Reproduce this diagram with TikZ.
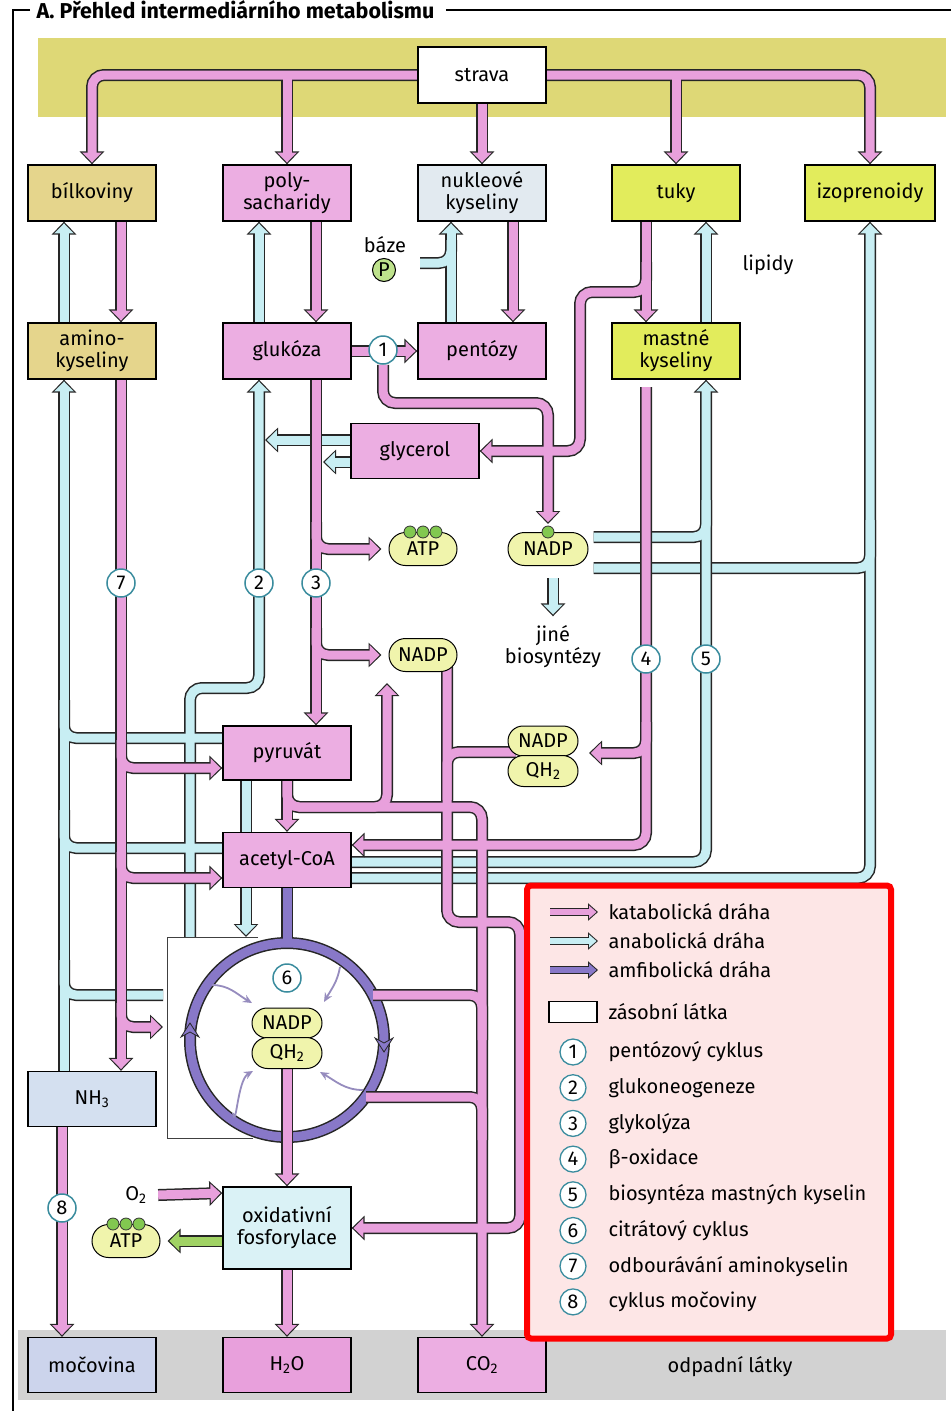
\documentclass[tikz,border=0pt]{standalone}
\usepackage{fontspec}
\setmainfont{Fira Sans}
\usetikzlibrary{arrows.meta,shapes.misc}

\definecolor{katpink}{RGB}{232,160,220}
\definecolor{anacyan}{RGB}{200,238,243}
\definecolor{amfpurple}{RGB}{136,120,200}
\definecolor{atpgreen}{RGB}{160,210,100}
\definecolor{boxpink}{RGB}{236,174,226}
\definecolor{boxtan}{RGB}{229,213,140}
\definecolor{boxlime}{RGB}{226,236,92}
\definecolor{boxgrey}{RGB}{226,234,240}
\definecolor{boxblue}{RGB}{212,224,240}
\definecolor{boxlav}{RGB}{204,212,236}
\definecolor{boxcyan}{RGB}{218,242,246}
\definecolor{cofactor}{RGB}{240,244,172}
\definecolor{dotgreen}{RGB}{130,200,80}
\definecolor{pgreen}{RGB}{190,226,140}
\definecolor{numteal}{RGB}{58,140,158}
\definecolor{topband}{RGB}{222,216,118}
\definecolor{waste}{RGB}{210,210,210}
\definecolor{legfill}{RGB}{253,230,230}
\definecolor{cycgrey}{RGB}{150,140,190}

\pgfdeclarelayer{bands}
\pgfdeclarelayer{pipes}
\pgfsetlayers{bands,pipes,main}

\tikzset{
  box/.style={draw, line width=1.3pt, minimum width=128pt, minimum height=56pt, align=center, inner sep=1pt},
  pill/.style={rounded rectangle, draw, line width=1pt, fill=cofactor, minimum width=70pt, minimum height=33pt, inner sep=1pt},
  num/.style={circle, draw=numteal, line width=1.5pt, fill=white, minimum size=28pt, inner sep=0pt},
  dot/.style={circle, draw=black!80, line width=0.8pt, fill=dotgreen, minimum size=12pt, inner sep=0pt},
  pout/.style={line width=12pt, draw=black!85, rounded corners=12pt,
    pend/.style={-{Triangle[length=13pt,width=24pt]}}},
  katin/.style={line width=9pt, draw=katpink, rounded corners=12pt,
    pend/.style={-{Triangle[length=10pt,width=19pt]}, shorten >=1.8pt}},
  anain/.style={katin, draw=anacyan},
  amfin/.style={katin, draw=amfpurple},
  grnin/.style={katin, draw=atpgreen},
  lout/.style={line width=8pt, draw=black!85, -{Triangle[length=10pt,width=17pt]}},
  lin/.style={line width=5.5pt, -{Triangle[length=7.5pt,width=12.5pt]}, shorten >=1.5pt},
  cyc/.style={line width=1.8pt, draw=cycgrey, -{Stealth[length=9pt,width=8pt]}},
}

% outlines of a whole pipe network first, then its colour
\newcommand\pipenet[2]{%
  \foreach \pth in {#2}{\draw[pout] \pth;}%
  \foreach \pth in {#2}{\draw[#1] \pth;}%
}

\begin{document}
\begin{tikzpicture}[x=1pt, y=-1pt, font=\fontsize{20}{22}\selectfont]
  \useasboundingbox (0,0) rectangle (951,1411);

  % Bands
  \begin{pgfonlayer}{bands}
    \fill[white] (0,0) rectangle (951,1411);
    \fill[topband] (38,38) rectangle (946,117);
    \fill[waste] (18,1330) rectangle (946,1400);
  \end{pgfonlayer}

  % Title and frame
  \node[anchor=west, font=\bfseries\fontsize{21.5}{23}\selectfont] (title) at (33,10) {A. Přehled intermediárního metabolismu};
  \coordinate (fre) at (951,11);
  \draw[line width=1.3pt] ([xshift=8]title.east) -- (title.east -| fre);
  \draw[line width=1.3pt] ([xshift=-3]title.west) -| (13,1411);

  % Stores and intermediates
  \node[box, fill=white] (strava) at (482,75) {strava};
  \node[box, fill=boxtan] (bilk) at (92,193) {bílkoviny};
  \node[box, fill=boxpink] (poly) at (287,193) {poly-\\sacharidy};
  \node[box, fill=boxgrey] (nukl) at (482,193) {nukleové\\kyseliny};
  \node[box, fill=boxlime] (tuky) at (676,193) {tuky};
  \node[box, fill=boxlime, minimum width=130pt] (izo) at (870,193) {izoprenoidy};
  \node[box, fill=boxtan] (amino) at (92,351) {amino-\\kyseliny};
  \node[box, fill=boxpink] (gluk) at (287,351) {glukóza};
  \node[box, fill=boxpink] (pent) at (482,351) {pentózy};
  \node[box, fill=boxlime] (mast) at (676,351) {mastné\\kyseliny};
  \node[box, fill=boxpink, minimum height=55pt] (glyc) at (415,451) {glycerol};
  \node[box, fill=boxpink, minimum height=54pt] (pyr) at (287,753) {pyruvát};
  \node[box, fill=boxpink, minimum height=55pt] (acet) at (287,860) {acetyl-CoA};
  \node[box, fill=boxblue, minimum height=55pt] (nh3) at (92,1099) {NH\textsubscript{3}};
  \node[box, fill=boxcyan, minimum height=82pt] (oxid) at (287,1228) {oxidativní\\fosforylace};
  \node[box, fill=boxlav, minimum height=55pt] (urea) at (92,1365) {močovina};
  \node[box, fill=katpink, minimum height=55pt] (h2o) at (287,1365) {H\textsubscript{2}O};
  \node[box, fill=boxpink, minimum height=55pt] (co2) at (482,1365) {CO\textsubscript{2}};

  % Cofactors
  \node[pill] (atpa) at (423,549) {ATP};
  \node[pill, minimum width=82pt] (nadpa) at (548,549) {NADP};
  \node[pill] (nadpb) at (423,655) {NADP};
  \node[pill, minimum width=72pt, minimum height=30pt] (nadpc) at (543,741) {NADP};
  \node[pill, minimum width=72pt, minimum height=31pt] (qhc) at (543,771) {QH\textsubscript{2}};
  \node[pill, minimum width=72pt, minimum height=30pt] (nadp6) at (287,1023) {NADP};
  \node[pill, minimum width=72pt, minimum height=31pt] (qh6) at (287,1053) {QH\textsubscript{2}};
  \node[pill] (atpb) at (126,1241) {ATP};
  \foreach \dx [count=\i] in {-13,0,13} {
    \node[dot] (dta\i) at ([xshift=\dx]atpa.north) {};
    \node[dot] (dtb\i) at ([xshift=\dx]atpb.north) {};
  }
  \node[dot] (dtn) at (nadpa.north) {};

  % Labels
  \node (baze) at (385,245) {báze};
  \node[circle, draw, line width=1pt, fill=pgreen, minimum size=23pt, inner sep=0pt] (phos) at (384,270) {P};
  \node (lipidy) at (768,265) {lipidy};
  \node[align=center] (jine) at (553,647) {jiné\\biosyntézy};
  \node (o2) at (136,1195) {O\textsubscript{2}};
  \node (odpad) at (730,1367) {odpadní látky};

  % Pathway numbers
  \node[num] (n1) at (383,350) {1};
  \node[num] (n2) at (259,583) {2};
  \node[num] (n3) at (316,583) {3};
  \node[num] (n4) at (646,659) {4};
  \node[num] (n5) at (706,659) {5};
  \node[num] (n6) at (287,978) {6};
  \node[num] (n7) at (121,583) {7};
  \node[num] (n8) at (62,1208) {8};

  % Citrate cycle
  \coordinate (ring) at (287,1040);
  \draw[line width=1pt, black!75] (258,937) -| (167,1138) -- (253,1138);
  \draw[black!85, fill=amfpurple, line width=0.8pt] (181,1037) -- (190,1023) -- (199,1037) -- (190,1032) -- cycle;
  \draw[black!85, fill=amfpurple, line width=0.8pt] (375,1038) -- (384,1052) -- (393,1038) -- (384,1043) -- cycle;
  \draw[cyc] (212,985) to[out=0, in=150] (252,1003);
  \draw[cyc] (340,967) to[out=-100, in=60] (324,1002);
  \draw[cyc] (233,1113) to[out=-80, in=-150] (253,1071);
  \draw[cyc] (363,1090) to[out=180, in=-30] (320,1072);

  \begin{pgfonlayer}{pipes}
    % anabolic
    \pipenet{anain}{
      {[pend] ([yshift=-18]acet.east) -| (izo.south)},
      {([xshift=5,yshift=-19]nadpa.east) -| (870,520)}}
    \pipenet{anain}{
      {[pend] ([yshift=-2]acet.east) -| ([xshift=30]mast.south)},
      {([xshift=5,yshift=12]nadpa.east) -| (706,500)}}
    \pipenet{anain}{
      {[pend] ([xshift=-28]amino.north) -- ([xshift=-28]bilk.south)},
      {[pend] ([xshift=-28]gluk.north) -- ([xshift=-28]poly.south)},
      {[pend] ([xshift=-31]pent.north) -- ([xshift=-31]nukl.south)},
      {(420,263) -| (451,240)},
      {[pend] ([xshift=30]mast.north) -- ([xshift=30]tuky.south)},
      {[pend] ([xshift=-28]nh3.north) -- ([xshift=-28]amino.south)},
      {([yshift=15]pyr.west) -| (64,700)},
      {([yshift=12]acet.west) -| (64,810)},
      {(163,995) -| (64,960)},
      {[pend] (190,937) |- (259,688) -- ([xshift=-28]gluk.south)},
      {[pend] ([xshift=-41]pyr.south) -- (246,937)},
      {[pend] ([yshift=11]glyc.west) -- (265,440)},
      {[pend] ([yshift=-11]glyc.west) -- (323,462)},
      {[pend] ([xshift=5,yshift=-12]nadpa.south) -- ([yshift=6]jine.north)}}
    % amphibolic
    \pipenet{amfin}{
      {(acet.south) -- (287,946)},
      {(ring) circle[radius=97]}}
    % catabolic
    \pipenet{katin}{
      {[pend] (strava.west) -| (bilk.north)},
      {[pend] (287,75) -- (poly.north)},
      {[pend] (strava.south) -- (nukl.north)},
      {[pend] (strava.east) -| (izo.north)},
      {[pend] (676,75) -- (tuky.north)},
      {[pend] ([xshift=29]bilk.south) -- ([xshift=29]amino.north)},
      {[pend] ([xshift=29]poly.south) -- ([xshift=29]gluk.north)},
      {[pend] ([xshift=31]nukl.south) -- ([xshift=31]pent.north)},
      {[pend] ([xshift=-30]tuky.south) -- ([xshift=-30]mast.north)},
      {[pend] (646,262) |- (580,292) |- (glyc.east)},
      {[pend] (gluk.east) -- (pent.west)},
      {[pend] (n1.south) -- (383,403) -| ([yshift=8]nadpa.north)},
      {[pend] ([xshift=29]gluk.south) -- ([xshift=29]pyr.north)},
      {[pend] (316,522) |- ([xshift=-7]atpa.west)},
      {[pend] (316,628) |- ([xshift=-7]nadpb.west)},
      {[pend] ([xshift=29]amino.south) -- ([xshift=29]nh3.north)},
      {[pend] (121,740) |- ([yshift=-15]pyr.west)},
      {[pend] (121,852) |- ([yshift=-18]acet.west)},
      {[pend] (121,1003) |- (163,1027)},
      {[pend] (pyr.south) -- (acet.north)},
      {[pend] (pyr.south) |- (482,807) -- (co2.north)},
      {[pend] (pyr.south) |- (387,807) -- (387,683)},
      {[pend] ([xshift=24,yshift=5]nadpb.south) |- (520,922) |- (oxid.east)},
      {([xshift=8,yshift=-11]nadpc.west) -| (447,800)},
      {[pend] (646,387) |- ([yshift=15]acet.east)},
      {[pend] (646,722) |- (589,753)},
      {(373,995) -| (482,1040)},
      {(366,1097) -| (482,1140)},
      {[pend] (qh6.south) -- (oxid.north)},
      {[pend] ([xshift=8]o2.east) -- ([yshift=35]oxid.west)},
      {[pend] (oxid.south) -- (h2o.north)},
      {[pend] ([xshift=-30]nh3.south) -- ([xshift=-30]urea.north)}}
    % ATP from oxidative phosphorylation
    \pipenet{grnin}{{[pend] ([yshift=-13]oxid.west) -- ([xshift=7]atpb.east)}}
  \end{pgfonlayer}

  % Legend
  \node[draw=red, line width=6pt, fill=legfill, rounded corners=4pt, minimum width=364pt, minimum height=453pt] (legend) at (709,1112) {};
  \foreach \col/\yy/\txt [count=\i] in {katpink/912/katabolická dráha, anacyan/941/anabolická dráha, amfpurple/970/amfibolická dráha} {
    \draw[lout] (550,\yy) -- (598,\yy);
    \draw[lin, draw=\col] (550,\yy) -- (598,\yy);
    \node[anchor=west] (lg\i) at (605,\yy) {\txt};
  }
  \node[draw, line width=1.3pt, fill=white, minimum width=48pt, minimum height=21pt] (lgbox) at (573,1012) {};
  \node[anchor=west] (lg4) at (605,1012) {zásobní látka};
  \foreach \txt [count=\i] in {pentózový cyklus, glukoneogeneze, glykolýza, β-oxidace, biosyntéza mastných kyselin, citrátový cyklus, odbourávání aminokyselin, cyklus močoviny} {
    \node[num, minimum size=26pt, line width=1.3pt] (ln\i) at (573,{1052+(\i-1)*35.7}) {\i};
    \node[anchor=west] (lt\i) at (605,{1052+(\i-1)*35.7}) {\txt};
  }
\end{tikzpicture}
\end{document}
